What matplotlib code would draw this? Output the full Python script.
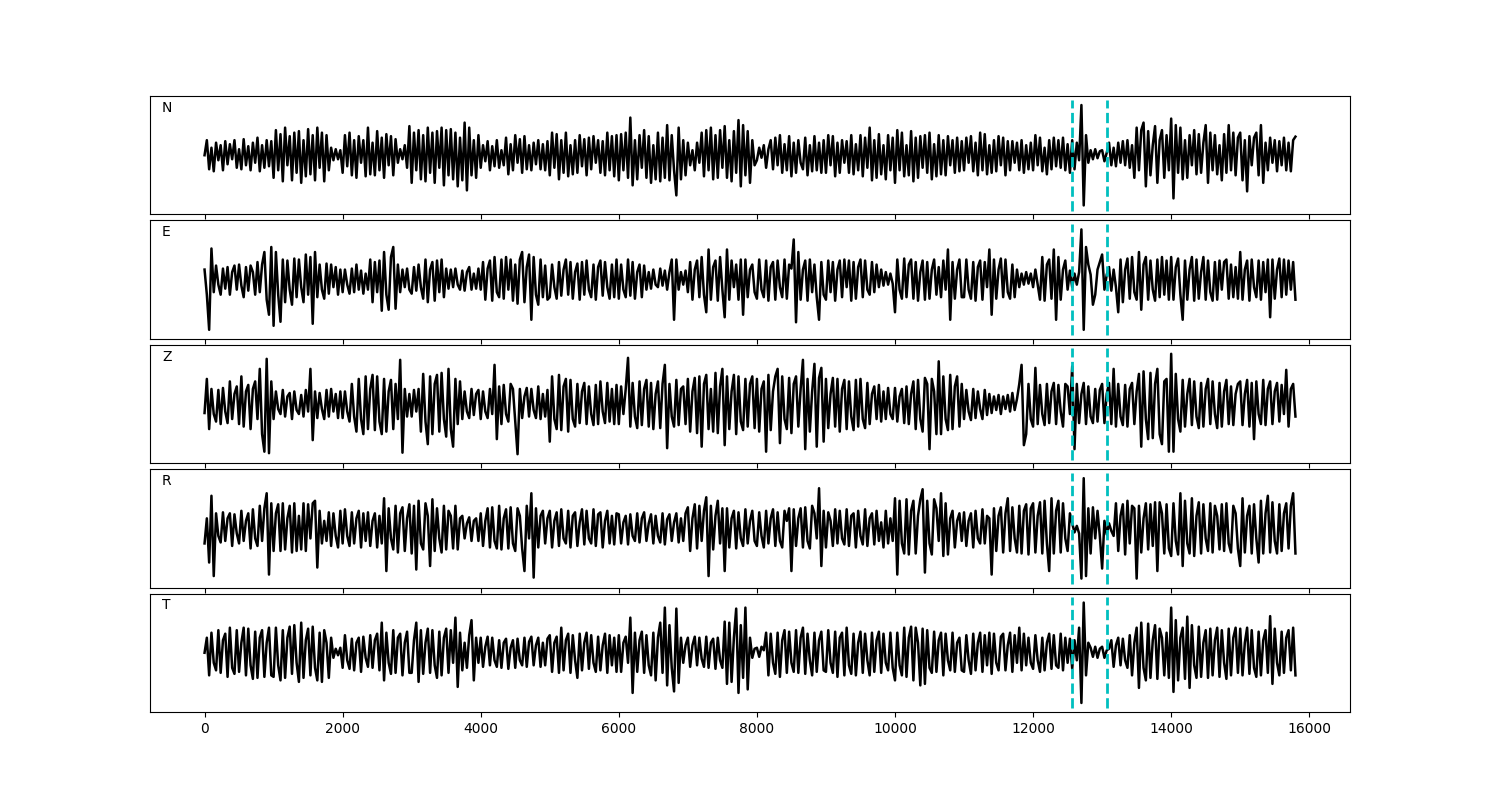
import numpy as np
import matplotlib
matplotlib.use("Agg")
import matplotlib.pyplot as plt

# traces, in percent of the largest swing,
# 30 samples per 1000 s (one row per 1000 s, last row to 15800 s)
n_vals = [0, 30, -28, 15, -32, 25, -10, 20, -30, 28, -18, 22, -8, 30, -25, 12, -28, 32, -20, 18, -30, 25, -15, 35, -32, 20, -25, 30, -22, 28,
          -45, 50, -30, 42, -52, 55, -20, 38, -50, 45, -35, 48, -55, 30, -42, 52, -38, 40, -50, 55, -25, 45, -52, 40, -30, 15, -10, 12, -8, 10,
          -35, 40, -22, 45, -40, 30, -45, 38, -15, 30, -42, 55, -38, 25, -40, 48, -30, 35, -45, 42, -20, 38, -40, 32, -15, 12, -8, 20, -25, 58,
          -55, 45, -30, 50, -48, 40, -52, 55, -35, 45, -55, 48, -25, 55, -60, 50, -40, 52, -48, 45, -62, 35, -50, 65, -70, 55, -40, 30, -45, 40,
          -25, 20, -12, 28, -30, 18, -22, 30, -25, 10, -20, 35, -38, 22, -30, 40, -15, 32, -35, 38, -28, 20, -30, 25, -18, 30, -28, 22, -30, 28,
          -40, 45, -25, 42, -48, 30, -35, 45, -42, 20, -38, 30, -35, 40, -22, 32, -40, 35, -28, 38, -15, 30, -35, 28, -40, 45, -30, 38, -42, 40,
          -50, 42, -30, 45, -45, 75, -60, 30, -48, 40, -25, 50, -45, 38, -55, 20, -48, 45, -52, 35, -45, 60, -50, 40, -30, -80, 55, -48, 30, -40,
          25, -20, 10, -30, 25, -15, 45, -42, 50, -30, 55, -48, 40, -45, 50, -25, 58, -45, 30, -52, 48, -35, 70, -62, 60, -40, 48, -55, 30, -20,
          -10, 15, -5, 20, -25, 12, 30, -28, 35, -20, 40, -35, 22, -30, 38, -42, 25, -35, 30, -15, -28, 35, -40, 20, -32, 38, -30, 25, -35, 30,
          -35, 40, -20, 38, -42, 25, -35, 30, -15, 28, -35, 40, -38, 22, -30, 40, -42, 35, -25, 55, -50, 30, -45, 42, -38, 20, -48, 40, -30, 35,
          -55, 50, -30, 45, -42, 20, -40, 48, -52, 35, -45, 38, -25, 40, -35, 45, -48, 22, -42, 40, -38, 30, -40, 38, -20, 30, -35, 35, -32, 28,
          -30, 35, -15, 38, -32, 25, -40, 45, -30, 42, -38, 20, -35, 30, -32, 38, -20, 35, -40, 28, -30, 28, -15, 25, -30, 30, -35, 20, -28, 25,
          -30, 40, -20, 35, -32, 15, -38, 30, -28, 35, -22, 30, -25, 35, -30, 22, -35, 30, -28, 25, -10, 100, -100, 40, -15, 10, -8, 12, -6, 8,
          10, -12, 5, 25, -20, 15, -22, 25, -15, 28, -20, 30, -25, 20, -45, 55, -30, 50, 65, -62, 48, -40, 20, 58, -55, 30, 50, -45, 40, -30,
          73, -86, 60, -35, 55, -48, 30, -45, 40, -20, 50, -38, 42, -35, 25, 60, -55, 45, -30, 40, -38, 20, -50, 42, -35, 60, -30, 45, -40, 35,
          45, -50, 30, -72, 38, -20, 35, 45, -40, 60, -55, 25, -30, 35, -15, 30, -32, 28, -20, 35, -30, 25, -32, 30, 37]

e_vals = [20, -30, -100, 62, -25, 28, -10, -30, 22, -18, 25, -30, 15, 28, -20, 30, -12, -35, 25, -22, 28, 15, -30, 35, -25, 30, 55, -40, -70, 65,
          -92, 55, -30, -84, 40, -45, 38, -20, -50, 42, -35, 40, -15, -45, 50, -30, 45, -88, 55, -35, 30, -20, -38, 32, -28, 30, -15, 25, -30, 20,
          -25, 20, -10, -28, 22, -25, 30, -20, 18, -28, 12, -20, 40, -45, 35, -25, 38, -62, 55, -30, -60, 45, 65, -58, 30, -25, 20, -15, 22, -20,
          -28, 25, -22, 30, -15, -38, 40, -45, 20, 35, -42, 38, -25, 40, -35, 22, -18, 20, -15, 22, -10, -20, 18, -22, 15, 25, -20, 12, -18, 22,
          -20, 35, -40, 22, 38, -42, 45, -25, -35, 40, -38, 45, -20, 40, -42, 30, -48, 40, 55, -45, 25, 50, -80, 45, -30, -50, 40, -35, 28, -40,
          -35, 30, -15, -38, 35, -32, 20, 40, -30, 35, -38, 15, 32, -40, 35, -30, 38, -20, -35, 30, -40, 25, 38, -32, 35, -15, -38, 30, -35, 40,
          -38, 30, -20, -35, 40, -32, 35, -38, 15, 30, -35, 28, -20, 15, -18, 20, -10, -15, 22, -12, 18, -20, 15, 40, -80, 40, -20, 15, -10, 18,
          -25, 35, -40, 20, 38, -35, 45, -30, -65, 60, -40, 25, 38, -42, 45, -20, -75, 60, -40, 38, -15, 30, -40, 40, -70, 40, -35, 20, 30, -25,
          -38, 40, -20, -35, 38, -42, 25, 35, -40, 38, -15, -35, 40, -38, 30, 22, 80, -85, 55, -40, 20, 38, -42, 40, -25, 30, -35, -80, 35, -30,
          -40, 38, -25, 35, -42, 20, 38, -35, 40, -15, 38, -42, 35, -38, 25, 40, -35, 38, -20, -30, 35, -25, 30, -15, 20, -12, 15, -10, 12, -8,
          -65, 40, -20, -38, 42, -35, 30, 40, -38, 35, -42, 15, 38, -40, 35, -38, 20, 40, -30, 25, -35, 38, -20, 60, -80, 35, -38, 20, 40, -35,
          -35, 40, -20, -38, 35, -42, 25, 38, -40, 35, -15, 60, -70, 40, -38, 20, 42, -35, 40, -25, -38, 30, -35, 20, -15, 12, -10, 15, -8, 12,
          -15, 20, -10, -40, 45, -42, 30, 40, -38, 60, -80, 45, -40, 20, 38, -20, 18, -15, 12, -10, 15, 100, -100, 65, 30, 10, -50, -30, 20, 35,
          50, -20, 10, 25, -22, 20, -15, -65, 40, -45, 20, 42, -38, 45, -25, -40, 55, -60, 30, 45, -40, 38, -20, -42, 40, -35, 45, -30, 38, -40,
          45, -40, 25, 42, -30, -80, 38, -40, 20, 45, -42, 40, -38, 15, 45, -40, 38, -25, -42, 35, -40, 38, -20, 35, 40, -38, 30, -35, 25, -38,
          55, -40, 20, 38, -42, 40, -15, -35, 38, -40, 35, -25, 40, -75, 40, -38, 20, 42, -35, 40, -30, 38, -20, 35, -40]

z_vals = [-18, 50, -50, 30, -20, -35, 28, -40, 32, -15, -38, 45, -30, 20, 35, -40, 55, -45, 25, 38, -50, 30, 45, -30, 70, -60, -95, 90, -98, 45,
          -30, 25, -10, -20, 28, -25, 15, 22, -30, 25, -12, -20, 18, -25, 28, -15, 70, -72, 25, -28, 22, -10, -30, 28, -25, 30, -15, 20, -28, 25,
          -28, 25, -15, -35, 40, -25, -55, 50, -30, -60, 55, -50, 30, 58, -52, 55, -35, -60, 50, -55, 25, 48, -50, 40, -30, 88, -97, 30, -25, 20,
          -25, 28, -15, 30, -55, 60, -35, -80, 55, -60, 40, 58, -55, 62, -30, -65, 70, -50, -85, 50, -40, 45, -30, 25, -15, -28, 30, -22, 20, 28,
          -30, 25, -15, -28, 30, -20, 78, -70, 35, -40, 38, -20, -35, 40, 30, -35, -100, 30, -28, 15, 32, -25, 30, -12, -28, 35, -30, 20, -25, 28,
          -75, 55, -30, -50, 58, -52, 35, 50, -55, 48, -30, -45, 40, -38, 25, 42, -40, 35, -20, -42, 38, -40, 45, -15, -38, 42, -35, 30, -40, 38,
          -40, 35, -20, 30, 92, -45, 42, -25, -48, 45, -42, 30, 48, -45, 42, -50, 20, 45, -48, 40, 78, -88, 40, -25, -45, 48, -42, 30, 35, -40,
          50, -55, 25, 52, -58, 55, -85, 40, 58, -50, 30, -55, 62, -58, 35, 70, -82, 55, -50, 25, 58, -60, 55, -35, -52, 50, -45, 40, 55, -48,
          50, -55, 30, 45, -95, 58, -52, 25, 55, 70, -78, 55, -30, -50, 52, -58, 40, 55, -45, 30, 88, -90, 50, -55, 25, 80, -85, 52, 72, -75,
          50, -48, 20, 52, -45, 50, -55, 30, 48, -50, 45, -25, -52, 48, -45, 50, -30, -48, 42, -40, 20, 35, -30, 38, -35, 25, -30, 32, -20, -30,
          32, -35, 15, 30, -38, 35, -40, 20, 45, -50, 48, -30, -55, 52, 40, -90, 50, 25, -60, 85, -60, 55, -30, -52, 58, -50, 35, 55, -45, 40,
          -30, 28, -15, -32, 30, -28, 25, -10, -30, 28, -22, 20, -18, 15, -12, 18, -20, 15, -10, 18, -15, 22, -12, 10, 40, 78, -82, -60, 40, -30,
          -45, 72, -40, 38, -20, -42, 40, -38, 25, 42, -40, 38, -15, -45, 40, 35, -20, 75, -90, 40, -38, 20, 42, -40, 35, -25, -38, 30, -35, 28,
          40, -38, 20, 42, -40, 70, -45, 40, -25, -42, 38, -45, 30, 42, -40, 25, 60, -85, 65, -30, -70, 62, -68, 40, 70, -60, -80, 45, 50, -95,
          100, -95, 60, -30, -55, 48, -45, 20, 50, -42, 45, -25, -48, 42, -45, 30, 50, -40, 45, -20, -48, 42, -45, 25, 48, -40, 35, -42, 20, 40,
          45, -42, 20, 48, -45, 42, -70, 45, -20, -40, 48, -42, 30, 45, -40, 25, 42, -35, 38, -20, 68, -45, 30, 40, -25]

r_vals = [-30, 20, -68, 65, -95, 30, -15, -28, 32, -25, 20, 30, -35, 28, -10, -30, 35, -25, 15, 30, -40, 38, -20, -35, 45, -25, 40, 70, -92, 50,
          -45, 30, 48, -45, 50, -42, 20, 45, -48, 50, -45, 25, -42, 50, -45, 48, -20, 50, 55, -78, 35, -30, 15, -25, 32, -35, 30, -15, -38, 35,
          -30, 38, -15, -35, 32, -30, 20, 35, -38, 30, -25, 32, -35, 15, 30, -38, 25, -30, 60, -85, 40, -20, -42, 45, -48, 30, 42, -45, 20, 48,
          -50, 45, -82, 55, -30, -42, 50, 25, -75, 58, -45, 40, -20, -48, 45, -42, 35, 25, -40, 45, -42, 20, 25, -20, 10, 22, -25, 15, 20, -25,
          30, -35, 15, 40, -38, 42, -25, -40, 45, -42, 20, 38, -40, 42, -30, -45, 40, 25, -40, -85, 45, -20, 70, -98, 40, -38, 25, 35, -30, 20,
          35, -38, 15, 32, -35, 38, -20, -30, 35, -38, 25, 32, -35, 12, 38, -32, 35, -20, -30, 38, -35, 28, 32, -38, 15, 35, -30, 25, -32, 30,
          28, -30, 12, 25, -32, 28, -15, -25, 30, -28, 20, 32, -25, 10, 28, -30, 25, -15, -28, 30, -32, 18, 28, -25, 12, 30, -28, 20, -25, 30,
          42, -45, 20, 48, -40, 45, -25, 35, 62, -95, 45, -42, 25, 55, -30, 40, -85, 40, -38, 20, 35, -40, 32, -20, -35, 38, -30, 15, 35, -25,
          -35, 32, -15, -38, 35, -30, 20, 38, -35, 32, -25, -38, 35, 15, 40, -85, 38, -35, 20, 40, -38, 42, -25, -40, 45, 30, -20, 80, -75, 35,
          -38, 32, 15, -35, 38, -30, 35, -20, -32, 38, -35, 25, 30, -38, 35, -15, -32, 38, -35, 20, 30, -32, 35, -25, 12, -38, 35, -30, 20, -25,
          60, -92, 55, -30, -50, 58, -52, 35, 55, -50, 25, 58, 78, -88, 55, -30, -52, 58, 40, -25, 70, -55, 50, -52, 20, 35, -38, 15, 30, -25,
          32, -35, 15, 30, -38, 35, -20, -30, 38, -30, 25, 20, -92, 40, -45, 25, 42, -48, 30, 60, -45, 42, -20, -48, 45, -50, 35, 48, -52, 40,
          50, -48, 25, 52, -50, 55, -30, -85, 60, -50, 35, 55, -48, 50, -20, -45, 30, 10, -8, 5, -10, -100, 100, -95, 40, -50, 42, -20, 35, -15,
          -80, 15, -12, 10, -5, -15, 50, -45, 25, 48, -52, 55, -30, 45, 40, -100, 45, -48, 20, 50, -42, 48, -35, 52, -85, 52, 30, -50, 48, -40,
          -55, 50, -25, -52, 70, -75, 55, -30, -50, 60, -55, 25, 52, -50, 48, -20, -45, 50, -48, 45, 25, -42, 48, -45, 50, -30, -48, 45, 30, -40,
          -75, 60, -48, 25, 45, -50, 48, -20, -68, 55, -50, 30, 65, -48, 52, -25, -50, 48, -45, 30, 50, -40, 45, 70, -50]

t_vals = [0, 30, -45, 40, -20, -35, 45, -40, 25, 38, -48, 50, -30, -42, 45, -38, 20, 50, -45, 48, -25, -52, 42, -50, 30, 45, -48, 20, 50, -45,
          -48, 50, -25, -55, 45, -50, 30, 52, -42, 55, -20, -58, 60, -50, 25, 48, -45, 52, -30, -55, 40, -58, 45, 20, -50, 30, -10, 8, -5, 10,
          -30, 35, -15, -32, 28, -35, 20, 30, -38, 32, -10, -28, 35, -30, 25, 38, -35, 60, -55, 40, -20, -42, 45, -40, 30, 38, -45, 20, 42, -40,
          -40, 25, 60, -58, 45, -42, 20, 48, -40, 45, -25, -50, 42, -45, 30, 48, -40, 45, -20, 70, -68, 40, -35, 20, -30, 35, 65, -55, 30, -20,
          30, -28, 12, 32, -25, 30, -15, -28, 25, -30, 20, 28, -32, 10, 25, -30, 28, -15, -25, 30, -28, 22, 32, -25, 15, 30, -28, 20, -25, 28,
          35, -38, 20, 32, -40, 50, -35, 25, 38, -40, 35, -15, -50, 38, -35, 20, 40, -32, 35, -20, -38, 32, -35, 15, 38, -40, 35, -25, 30, -38,
          35, -38, 20, 32, -20, 70, -80, 40, -38, 25, 42, -40, 35, -25, -45, 40, -55, 30, 60, -40, 90, -65, 55, -30, -77, 88, -60, 30, -20, 15,
          30, -28, 15, 32, -25, 30, -12, -28, 32, -30, 20, 28, -32, 30, -15, -30, 62, -62, 60, -58, 30, 88, -80, 55, -50, 90, -73, 30, -10, 8,
          10, -8, 12, 5, 40, -45, 38, -20, -42, 40, -48, 25, 45, -40, 42, -20, -38, 45, -40, 30, 50, -42, 38, -15, -45, 40, -38, 25, 42, -35,
          -38, 45, -20, -40, 42, -48, 30, 40, -45, 50, -25, -42, 38, -45, 20, 42, -40, 38, -15, -45, 40, -38, 25, 42, -40, 38, -20, -35, 40, -30,
          -55, 40, -25, -45, 50, -48, 30, 52, -55, 50, 20, -65, 48, -62, 45, -30, -40, 42, -38, 25, 40, -45, 38, -15, -35, 40, -38, 20, 30, -35,
          -38, 35, -15, -42, 38, -35, 20, 40, -38, 35, -25, 40, -42, 38, -20, -35, 32, 38, -35, 15, 40, -38, 35, -20, 50, -35, 38, -25, 30, -20,
          -32, 35, -15, -38, 30, -35, 20, 38, -32, 35, -25, -30, 38, -35, 30, -20, 28, -32, 25, -15, 50, -100, 100, -45, 20, 10, -8, 12, -10, 8,
          12, -10, 5, 8, 25, -28, 15, 30, -25, 28, -15, -30, 35, -45, 20, 50, -70, 60, -30, -55, 58, -50, 25, 55, -52, 48, 30, -45, 40, -50,
          90, -78, 65, -55, 30, 50, -52, 72, -70, 55, -25, -50, 52, -48, 20, 45, -50, 48, -45, 25, 50, -48, 45, -20, -52, 48, -45, 30, 50, -40,
          48, -45, 20, 50, -42, 45, -30, -48, 42, -45, 25, 45, -40, 73, -62, 48, -20, -45, 42, -40, 30, 45, -35, 50, -45]

components = ["N", "E", "Z", "R", "T"]
traces = [n_vals, e_vals, z_vals, r_vals, t_vals]
t_end = 15800
picks = [12570, 13070]

fig, axes = plt.subplots(5, 1, sharex=True, figsize=(15, 8), dpi=100)
fig.subplots_adjust(left=0.1, right=0.9, top=0.88, bottom=0.11, hspace=0.05)

for ax, comp, vals in zip(axes, components, traces):
    y = np.array(vals) / 100.0
    t = np.linspace(0, t_end, len(y))
    ax.plot(t, y, color="k", lw=1.8)
    for p in picks:
        ax.axvline(p, ymin=0.03, ymax=0.97, color="c", ls="--", lw=2)
    ax.set_ylim(-1.18, 1.18)
    ax.set_yticks([])
    ax.text(0.01, 0.9, comp, transform=ax.transAxes, va="center", fontsize=10)

fig.savefig("out.png")
